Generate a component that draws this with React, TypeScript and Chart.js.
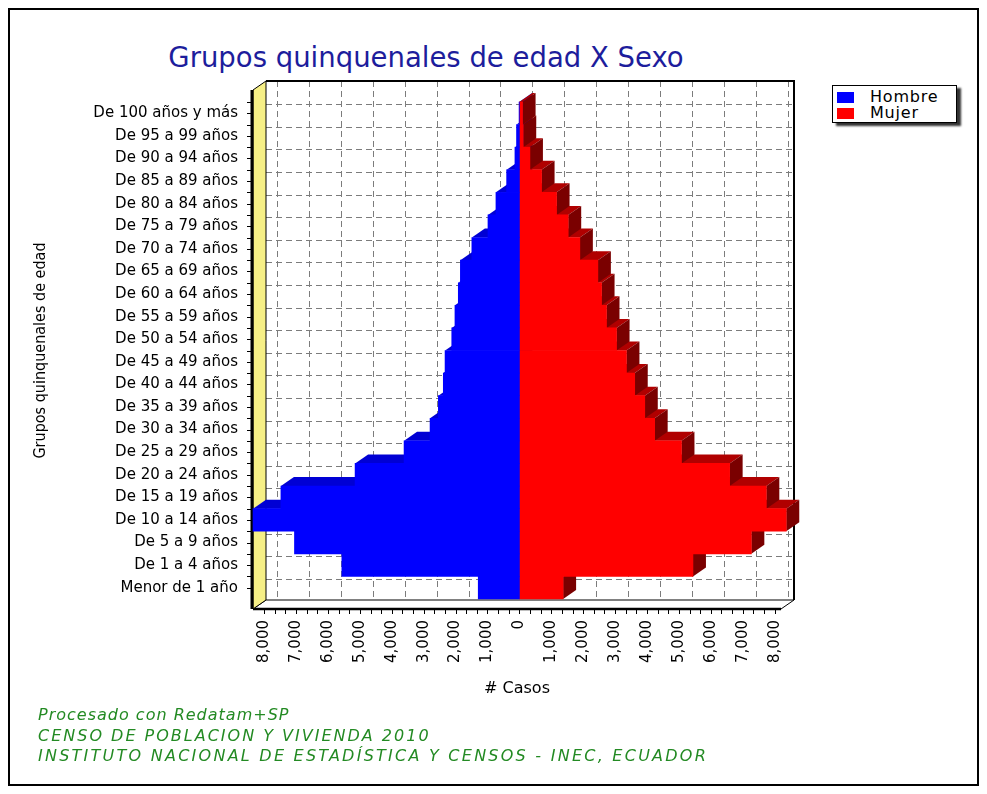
import React, { useEffect, useRef } from "react";
import { Chart, registerables } from "chart.js";

Chart.register(...registerables);

// ---------- data ----------
const categories = [
  "De 100 años y más",
  "De 95 a 99 años",
  "De 90 a 94 años",
  "De 85 a 89 años",
  "De 80 a 84 años",
  "De 75 a 79 años",
  "De 70 a 74 años",
  "De 65 a 69 años",
  "De 60 a 64 años",
  "De 55 a 59 años",
  "De 50 a 54 años",
  "De 45 a 49 años",
  "De 40 a 44 años",
  "De 35 a 39 años",
  "De 30 a 34 años",
  "De 25 a 29 años",
  "De 20 a 24 años",
  "De 15 a 19 años",
  "De 10 a 14 años",
  "De 5 a 9 años",
  "De 1 a 4 años",
  "Menor de 1 año",
];

const hombre = [
  10, 90, 140, 400, 735, 985, 1490, 1850, 1915, 2020, 2120, 2330, 2385, 2540,
  2800, 3615, 5150, 7475, 8350, 7050, 5565, 1290,
];

const mujer = [
  100, 120, 330, 695, 1165, 1530, 1895, 2460, 2575, 2730, 3045, 3355, 3615, 3930,
  4240, 5080, 6590, 7740, 8365, 7270, 5440, 1370,
];

const seriesNames = ["Hombre", "Mujer"];

const xTickValues = [
  -8000, -7000, -6000, -5000, -4000, -3000, -2000, -1000, 0, 1000, 2000, 3000,
  4000, 5000, 6000, 7000, 8000,
];

const titleText = "Grupos quinquenales de edad X Sexo";
const yAxisTitle = "Grupos quinquenales de edad";
const xAxisTitle = "# Casos";
const footerLines = [
  "Procesado con Redatam+SP",
  "CENSO DE POBLACION Y VIVIENDA 2010",
  "INSTITUTO NACIONAL DE ESTADÍSTICA Y CENSOS - INEC, ECUADOR",
];

// ---------- styling ----------
const BLUE = "#0000ff";
const RED = "#ff0000";
const DX = 13;
const DY = -9;

const pseudo3d = {
  id: "pseudo3d",
  beforeDatasetsDraw(chart: any) {
    const { ctx, chartArea: a, scales } = chart;
    const xs = scales.x;
    const ys = scales.y;
    const L = a.left;
    const R = a.right;
    const T = a.top - 12;
    const B = a.bottom + 10;
    const bL = L + DX;
    const bR = R + DX;
    const bT = T + DY;
    const bB = B + DY;
    const band = ys.getPixelForValue(1) - ys.getPixelForValue(0);

    ctx.save();

    // back wall grid
    ctx.strokeStyle = "#7c7c7c";
    ctx.lineWidth = 1;
    ctx.setLineDash([6, 4]);
    for (const v of xTickValues) {
      const x = Math.round(xs.getPixelForValue(v) + DX) + 0.5;
      ctx.beginPath();
      ctx.moveTo(x, bT);
      ctx.lineTo(x, bB);
      ctx.stroke();
    }
    for (let i = 0; i < categories.length; i++) {
      const y = Math.round(ys.getPixelForValue(i) + DY) + 0.5;
      ctx.beginPath();
      ctx.moveTo(bL, y);
      ctx.lineTo(bR, y);
      ctx.stroke();
    }
    ctx.setLineDash([]);

    // back wall border (top and right)
    ctx.strokeStyle = "#000";
    ctx.lineWidth = 2;
    ctx.beginPath();
    ctx.moveTo(bL, bT);
    ctx.lineTo(bR, bT);
    ctx.lineTo(bR, bB);
    ctx.stroke();

    // floor
    ctx.fillStyle = "#ffffff";
    ctx.beginPath();
    ctx.moveTo(L, B);
    ctx.lineTo(R, B);
    ctx.lineTo(bR, bB);
    ctx.lineTo(bL, bB);
    ctx.closePath();
    ctx.fill();
    ctx.lineWidth = 1;
    ctx.stroke();
    ctx.lineWidth = 2.5;
    ctx.beginPath();
    ctx.moveTo(L, B);
    ctx.lineTo(R, B);
    ctx.stroke();

    // small ticks under floor edge
    ctx.lineWidth = 1;
    const step = 1000 / 3;
    for (let v = xTickValues[0]; v <= xTickValues[xTickValues.length - 1] + 1; v += step) {
      const x = Math.round(xs.getPixelForValue(v)) + 0.5;
      ctx.beginPath();
      ctx.moveTo(x, B + 1);
      ctx.lineTo(x, B + 5);
      ctx.stroke();
    }

    // left wall (yellow)
    ctx.fillStyle = "#f6ef86";
    ctx.beginPath();
    ctx.moveTo(L, T);
    ctx.lineTo(bL, bT);
    ctx.lineTo(bL, bB);
    ctx.lineTo(L, B);
    ctx.closePath();
    ctx.fill();
    ctx.strokeStyle = "#000";
    ctx.lineWidth = 1;
    ctx.stroke();

    // left axis line with ticks
    ctx.lineWidth = 3;
    ctx.beginPath();
    ctx.moveTo(L - 1, T);
    ctx.lineTo(L - 1, B);
    ctx.stroke();
    ctx.lineWidth = 1;
    for (let i = 0; i < categories.length; i++) {
      const c = ys.getPixelForValue(i);
      for (const y of [c - band / 2, c]) {
        const yy = Math.round(y) + 0.5;
        ctx.beginPath();
        ctx.moveTo(L - 6, yy);
        ctx.lineTo(L - 2, yy);
        ctx.stroke();
      }
    }

    // 3D faces of the bars (bottom row first)
    const metas = [chart.getDatasetMeta(0), chart.getDatasetMeta(1)];
    const topCol = ["#0000d4", "#b00000"];
    const sideCol = ["#00009c", "#7a0000"];
    for (let i = categories.length - 1; i >= 0; i--) {
      metas.forEach((meta: any, d: number) => {
        const el = meta.data[i];
        if (!el) return;
        const { x, y, base, height } = el.getProps(["x", "y", "base", "height"], true);
        const x0 = Math.min(x, base);
        const x1 = Math.max(x, base);
        const yt = y - height / 2;
        const yb = y + height / 2;
        ctx.fillStyle = topCol[d];
        ctx.beginPath();
        ctx.moveTo(x0, yt);
        ctx.lineTo(x1, yt);
        ctx.lineTo(x1 + DX, yt + DY);
        ctx.lineTo(x0 + DX, yt + DY);
        ctx.closePath();
        ctx.fill();
        ctx.fillStyle = sideCol[d];
        ctx.beginPath();
        ctx.moveTo(x1, yt);
        ctx.lineTo(x1 + DX, yt + DY);
        ctx.lineTo(x1 + DX, yb + DY);
        ctx.lineTo(x1, yb);
        ctx.closePath();
        ctx.fill();
      });
    }

    ctx.restore();
  },
};

export default function App() {
  const canvasRef = useRef<HTMLCanvasElement | null>(null);

  useEffect(() => {
    const canvas = canvasRef.current;
    if (!canvas) return;
    const chart = new Chart(canvas, {
      type: "bar",
      data: {
        labels: categories,
        datasets: [
          {
            label: seriesNames[0],
            data: hombre.map((v) => -v),
            backgroundColor: BLUE,
            borderWidth: 0,
            barPercentage: 1,
            categoryPercentage: 1,
            clip: false as any,
          },
          {
            label: seriesNames[1],
            data: mujer,
            backgroundColor: RED,
            borderWidth: 0,
            barPercentage: 1,
            categoryPercentage: 1,
            clip: false as any,
          },
        ],
      },
      options: {
        indexAxis: "y",
        responsive: false,
        animation: false,
        devicePixelRatio: 1,
        layout: { padding: { left: 0, top: 42, right: 39, bottom: 11 } },
        plugins: {
          legend: { display: false },
          title: { display: false },
          tooltip: { enabled: false },
        },
        scales: {
          x: {
            type: "linear",
            stacked: true,
            min: -8350,
            max: 8200,
            grid: { display: false, drawTicks: false, tickLength: 0 },
            border: { display: false },
            afterBuildTicks: (s: any) => {
              s.ticks = xTickValues.map((v) => ({ value: v }));
            },
            afterFit: (s: any) => {
              s.height = 100;
            },
            ticks: {
              autoSkip: false,
              minRotation: 90,
              maxRotation: 90,
              padding: 21,
              color: "#000",
              font: { family: "DejaVu Sans", size: 15 },
              callback: (v: any) => Math.abs(Number(v)).toLocaleString("en-US"),
            },
            title: {
              display: true,
              text: xAxisTitle,
              color: "#000",
              font: { family: "DejaVu Sans", size: 16 },
              padding: { top: 0, bottom: 1 },
            },
          },
          y: {
            type: "category",
            stacked: true,
            grid: { display: false, drawTicks: false, tickLength: 0 },
            border: { display: false },
            afterFit: (s: any) => {
              s.width = 233;
            },
            ticks: {
              autoSkip: false,
              padding: 15,
              color: "#000",
              font: { family: "DejaVu Sans", size: 15 },
            },
            title: {
              display: true,
              text: yAxisTitle,
              color: "#000",
              font: { family: "'DejaVu Sans Condensed', 'DejaVu Sans'", size: 16 },
              padding: { top: 11, bottom: 0 },
            },
          },
        },
      } as any,
      plugins: [pseudo3d],
    });
    return () => chart.destroy();
  }, []);

  const footerSpacing = ["1px", "2px", "2.25px"];

  return (
    <div style={{ position: "relative", width: 971, height: 778, background: "#fff" }}>
      <div
        style={{
          position: "absolute",
          left: 0,
          top: 0,
          width: 971,
          height: 778,
          border: "2px solid #000",
          boxSizing: "border-box",
        }}
      />
      <div
        style={{
          position: "absolute",
          left: 118,
          top: 33,
          width: 600,
          textAlign: "center",
          fontFamily: "'DejaVu Sans', sans-serif",
          fontSize: 27.5,
          lineHeight: "32px",
          color: "#1d1d9c",
          whiteSpace: "nowrap",
        }}
      >
        {titleText}
      </div>
      <canvas
        ref={canvasRef}
        width={800}
        height={650}
        style={{ position: "absolute", left: 12, top: 52, width: 800, height: 650 }}
      />
      <div
        style={{
          position: "absolute",
          left: 824,
          top: 77,
          width: 125,
          height: 38,
          border: "1px solid #000",
          background: "#fff",
          boxShadow: "4px 3px 2px #333",
          boxSizing: "border-box",
          fontFamily: "'DejaVu Sans', sans-serif",
          fontSize: 16,
          letterSpacing: "0.8px",
        }}
      >
        {seriesNames.map((name, i) => (
          <React.Fragment key={name}>
            <div
              style={{
                position: "absolute",
                left: 4,
                top: 6 + i * 16,
                width: 17,
                height: 11,
                background: i === 0 ? BLUE : RED,
              }}
            />
            <div
              style={{
                position: "absolute",
                left: 37,
                top: 2 + i * 16,
                lineHeight: "18px",
                color: "#000",
                whiteSpace: "nowrap",
              }}
            >
              {name}
            </div>
          </React.Fragment>
        ))}
      </div>
      {footerLines.map((line, i) => (
        <div
          key={line}
          style={{
            position: "absolute",
            left: 30,
            top: 697 + i * 20.5,
            fontFamily: "'DejaVu Sans', sans-serif",
            fontStyle: "italic",
            fontSize: 16,
            lineHeight: "20px",
            letterSpacing: footerSpacing[i],
            color: "#238a23",
            whiteSpace: "nowrap",
          }}
        >
          {line}
        </div>
      ))}
    </div>
  );
}
